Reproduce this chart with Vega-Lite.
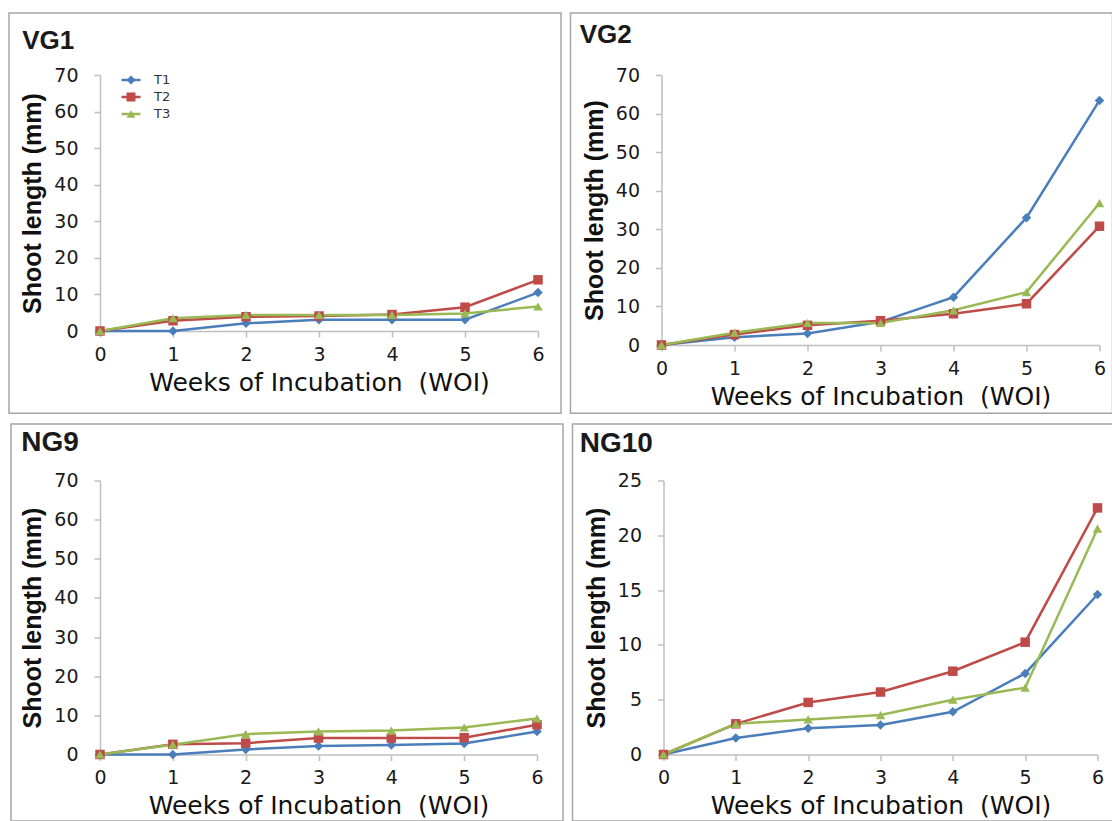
{
  "$schema": "https://vega.github.io/schema/vega-lite/v6.json",
  "background": "white",
  "padding": {"left": 8, "top": 12, "right": 0, "bottom": 0},
  "autosize": {"type": "pad"},
  "datasets": {
    "d": [
      {"panel":"VG1","series":"T1","week":0,"value":0},{"panel":"VG1","series":"T1","week":1,"value":0},{"panel":"VG1","series":"T1","week":2,"value":2.1},{"panel":"VG1","series":"T1","week":3,"value":3.1},{"panel":"VG1","series":"T1","week":4,"value":3.1},{"panel":"VG1","series":"T1","week":5,"value":3.1},{"panel":"VG1","series":"T1","week":6,"value":10.5},
      {"panel":"VG1","series":"T2","week":0,"value":0},{"panel":"VG1","series":"T2","week":1,"value":2.8},{"panel":"VG1","series":"T2","week":2,"value":3.9},{"panel":"VG1","series":"T2","week":3,"value":4.1},{"panel":"VG1","series":"T2","week":4,"value":4.5},{"panel":"VG1","series":"T2","week":5,"value":6.5},{"panel":"VG1","series":"T2","week":6,"value":14.0},
      {"panel":"VG1","series":"T3","week":0,"value":0},{"panel":"VG1","series":"T3","week":1,"value":3.5},{"panel":"VG1","series":"T3","week":2,"value":4.4},{"panel":"VG1","series":"T3","week":3,"value":4.4},{"panel":"VG1","series":"T3","week":4,"value":4.4},{"panel":"VG1","series":"T3","week":5,"value":4.8},{"panel":"VG1","series":"T3","week":6,"value":6.7},
      {"panel":"VG2","series":"T1","week":0,"value":0},{"panel":"VG2","series":"T1","week":1,"value":2.0},{"panel":"VG2","series":"T1","week":2,"value":3.0},{"panel":"VG2","series":"T1","week":3,"value":6.0},{"panel":"VG2","series":"T1","week":4,"value":12.4},{"panel":"VG2","series":"T1","week":5,"value":33.0},{"panel":"VG2","series":"T1","week":6,"value":63.4},
      {"panel":"VG2","series":"T2","week":0,"value":0},{"panel":"VG2","series":"T2","week":1,"value":2.7},{"panel":"VG2","series":"T2","week":2,"value":5.1},{"panel":"VG2","series":"T2","week":3,"value":6.3},{"panel":"VG2","series":"T2","week":4,"value":8.1},{"panel":"VG2","series":"T2","week":5,"value":10.7},{"panel":"VG2","series":"T2","week":6,"value":30.8},
      {"panel":"VG2","series":"T3","week":0,"value":0},{"panel":"VG2","series":"T3","week":1,"value":3.2},{"panel":"VG2","series":"T3","week":2,"value":5.7},{"panel":"VG2","series":"T3","week":3,"value":5.7},{"panel":"VG2","series":"T3","week":4,"value":9.0},{"panel":"VG2","series":"T3","week":5,"value":13.7},{"panel":"VG2","series":"T3","week":6,"value":36.8},
      {"panel":"NG9","series":"T1","week":0,"value":0},{"panel":"NG9","series":"T1","week":1,"value":0},{"panel":"NG9","series":"T1","week":2,"value":1.3},{"panel":"NG9","series":"T1","week":3,"value":2.2},{"panel":"NG9","series":"T1","week":4,"value":2.4},{"panel":"NG9","series":"T1","week":5,"value":2.8},{"panel":"NG9","series":"T1","week":6,"value":5.9},
      {"panel":"NG9","series":"T2","week":0,"value":0},{"panel":"NG9","series":"T2","week":1,"value":2.6},{"panel":"NG9","series":"T2","week":2,"value":2.9},{"panel":"NG9","series":"T2","week":3,"value":4.2},{"panel":"NG9","series":"T2","week":4,"value":4.2},{"panel":"NG9","series":"T2","week":5,"value":4.3},{"panel":"NG9","series":"T2","week":6,"value":7.6},
      {"panel":"NG9","series":"T3","week":0,"value":0},{"panel":"NG9","series":"T3","week":1,"value":2.5},{"panel":"NG9","series":"T3","week":2,"value":5.2},{"panel":"NG9","series":"T3","week":3,"value":5.9},{"panel":"NG9","series":"T3","week":4,"value":6.1},{"panel":"NG9","series":"T3","week":5,"value":6.9},{"panel":"NG9","series":"T3","week":6,"value":9.2},
      {"panel":"NG10","series":"T1","week":0,"value":0},{"panel":"NG10","series":"T1","week":1,"value":1.5},{"panel":"NG10","series":"T1","week":2,"value":2.4},{"panel":"NG10","series":"T1","week":3,"value":2.7},{"panel":"NG10","series":"T1","week":4,"value":3.9},{"panel":"NG10","series":"T1","week":5,"value":7.4},{"panel":"NG10","series":"T1","week":6,"value":14.6},
      {"panel":"NG10","series":"T2","week":0,"value":0},{"panel":"NG10","series":"T2","week":1,"value":2.8},{"panel":"NG10","series":"T2","week":2,"value":4.75},{"panel":"NG10","series":"T2","week":3,"value":5.7},{"panel":"NG10","series":"T2","week":4,"value":7.6},{"panel":"NG10","series":"T2","week":5,"value":10.25},{"panel":"NG10","series":"T2","week":6,"value":22.5},
      {"panel":"NG10","series":"T3","week":0,"value":0},{"panel":"NG10","series":"T3","week":1,"value":2.8},{"panel":"NG10","series":"T3","week":2,"value":3.2},{"panel":"NG10","series":"T3","week":3,"value":3.6},{"panel":"NG10","series":"T3","week":4,"value":5.0},{"panel":"NG10","series":"T3","week":5,"value":6.1},{"panel":"NG10","series":"T3","week":6,"value":20.6}
    ]
  },
  "config": {
    "view": {"stroke": null},
    "axis": {"grid": false, "domainColor": "#bfbfbf", "domainWidth": 1.5, "tickColor": "#bfbfbf", "tickWidth": 1.5, "tickSize": 6, "labelFont": "DejaVu Sans", "labelFontSize": 19, "labelColor": "#1a1a1a", "titleColor": "#111111"},
    "axisX": {"labelPadding": 8, "titleFont": "DejaVu Sans", "titleFontSize": 25, "titleFontWeight": "normal", "titlePadding": 6, "labelFlush": false},
    "axisY": {"labelPadding": 16, "titleFont": "Liberation Sans", "titleFontSize": 25, "titleFontWeight": "bold", "titlePadding": 8},
    "legend": {"orient": "none", "padding": 0, "rowPadding": 0, "clipHeight": 17, "labelFont": "DejaVu Sans", "labelFontSize": 13, "labelColor": "#333333", "labelOffset": 12},
    "title": {"anchor": "start", "frame": "bounds", "offset": 0, "baseline": "top", "font": "Liberation Sans", "fontWeight": "bold", "color": "#1a1a1a"}
  },
  "spacing": 8.5,
  "vconcat": [
    {
      "spacing": 7.5,
      "hconcat": [
        {
          "title": {"text": "VG1", "fontSize": 26, "dx": 14, "dy": 46},
          "width": 438, "height": 256,
          "data": {"name": "d"},
          "transform": [{"filter": "datum.panel === 'VG1'"}],
          "layer": [
            {
              "transform": [{"filter": "datum.week === 0 && datum.series === 'T1'"}],
              "mark": {"type": "rect", "fill": null, "stroke": "#a6a6a6", "strokeWidth": 1.5},
              "encoding": {
                "x": {"datum": -1.2466, "type": "quantitative", "scale": {"domain": [0, 6], "nice": false, "zero": false}, "axis": {"values": [0,1,2,3,4,5,6], "format": "d"}, "title": "Weeks of Incubation \u00a0(WOI)"},
                "x2": {"datum": 6.3151},
                "y": {"datum": -22.49, "type": "quantitative", "scale": {"domain": [0, 70], "nice": false, "zero": false}, "axis": {"values": [0,10,20,30,40,50,60,70], "format": "d"}, "title": "Shoot length (mm)"},
                "y2": {"datum": 86.95}
              }
            },
            {
              "mark": {"type": "line", "strokeWidth": 2.5},
              "encoding": {
                "x": {"field": "week", "type": "quantitative", "axis": {"values": [0,1,2,3,4,5,6], "format": "d"}, "title": "Weeks of Incubation \u00a0(WOI)"},
                "y": {"field": "value", "type": "quantitative", "axis": {"values": [0,10,20,30,40,50,60,70], "format": "d"}, "title": "Shoot length (mm)"},
                "stroke": {"field": "series", "type": "nominal", "scale": {"domain": ["T1","T2","T3"], "range": ["#4A7EBB","#BE4B48","#98B954"]}, "legend": {"title": null, "legendX": 20, "legendY": -3.5, "symbolType": "stroke", "symbolSize": 361, "symbolStrokeWidth": 2.5}}
              }
            },
            {
              "mark": {"type": "point", "filled": true, "opacity": 1, "size": 90},
              "encoding": {
                "x": {"field": "week", "type": "quantitative", "axis": {"values": [0,1,2,3,4,5,6], "format": "d"}, "title": "Weeks of Incubation \u00a0(WOI)"},
                "y": {"field": "value", "type": "quantitative", "axis": {"values": [0,10,20,30,40,50,60,70], "format": "d"}, "title": "Shoot length (mm)"},
                "fill": {"field": "series", "type": "nominal", "scale": {"range": ["#4A7EBB","#BE4B48","#98B954"]}, "legend": {"title": null, "legendX": 24.5, "legendY": -3.5, "symbolSize": 80, "labelExpr": "''"}},
                "shape": {"field": "series", "type": "nominal", "scale": {"range": ["diamond","square","triangle-up"]}, "legend": {"title": null, "legendX": 24.5, "legendY": -3.5, "symbolSize": 80, "labelExpr": "''"}}
              }
            }
          ]
        },
        {
          "title": {"text": "VG2", "fontSize": 26, "dx": 10, "dy": 40},
          "width": 438, "height": 270,
          "data": {"name": "d"},
          "transform": [{"filter": "datum.panel === 'VG2'"}],
          "layer": [
            {
              "transform": [{"filter": "datum.week === 0 && datum.series === 'T1'"}],
              "mark": {"type": "rect", "fill": null, "stroke": "#a6a6a6", "strokeWidth": 1.5},
              "encoding": {
                "x": {"datum": -1.2466, "type": "quantitative", "scale": {"domain": [0, 6], "nice": false, "zero": false}, "axis": {"values": [0,1,2,3,4,5,6], "format": "d"}, "title": "Weeks of Incubation \u00a0(WOI)"},
                "x2": {"datum": 6.178},
                "y": {"datum": -17.69, "type": "quantitative", "scale": {"domain": [0, 70], "nice": false, "zero": false}, "axis": {"values": [0,10,20,30,40,50,60,70], "format": "d"}, "title": "Shoot length (mm)"},
                "y2": {"datum": 86.07}
              }
            },
            {
              "mark": {"type": "line", "strokeWidth": 2.5},
              "encoding": {
                "x": {"field": "week", "type": "quantitative", "axis": {"values": [0,1,2,3,4,5,6], "format": "d"}, "title": "Weeks of Incubation \u00a0(WOI)"},
                "y": {"field": "value", "type": "quantitative", "axis": {"values": [0,10,20,30,40,50,60,70], "format": "d"}, "title": "Shoot length (mm)"},
                "stroke": {"field": "series", "type": "nominal", "scale": {"domain": ["T1","T2","T3"], "range": ["#4A7EBB","#BE4B48","#98B954"]}, "legend": {"title": null, "legendX": 20, "legendY": -3.5, "symbolType": "stroke", "symbolSize": 361, "symbolStrokeWidth": 2.5}}
              }
            },
            {
              "mark": {"type": "point", "filled": true, "opacity": 1, "size": 90},
              "encoding": {
                "x": {"field": "week", "type": "quantitative", "axis": {"values": [0,1,2,3,4,5,6], "format": "d"}, "title": "Weeks of Incubation \u00a0(WOI)"},
                "y": {"field": "value", "type": "quantitative", "axis": {"values": [0,10,20,30,40,50,60,70], "format": "d"}, "title": "Shoot length (mm)"},
                "fill": {"field": "series", "type": "nominal", "scale": {"range": ["#4A7EBB","#BE4B48","#98B954"]}, "legend": {"title": null, "legendX": 24.5, "legendY": -3.5, "symbolSize": 80, "labelExpr": "''"}},
                "shape": {"field": "series", "type": "nominal", "scale": {"range": ["diamond","square","triangle-up"]}, "legend": {"title": null, "legendX": 24.5, "legendY": -3.5, "symbolSize": 80, "labelExpr": "''"}}
              }
            }
          ]
        }
      ]
    },
    {
      "spacing": 7.5,
      "hconcat": [
        {
          "title": {"text": "NG9", "fontSize": 28, "dx": 11, "dy": 38},
          "width": 437, "height": 274,
          "data": {"name": "d"},
          "transform": [{"filter": "datum.panel === 'NG9'"}],
          "layer": [
            {
              "transform": [{"filter": "datum.week === 0 && datum.series === 'T1'"}],
              "mark": {"type": "rect", "fill": null, "stroke": "#a6a6a6", "strokeWidth": 1.5},
              "encoding": {
                "x": {"datum": -1.222, "type": "quantitative", "scale": {"domain": [0, 6], "nice": false, "zero": false}, "axis": {"values": [0,1,2,3,4,5,6], "format": "d"}, "title": "Weeks of Incubation \u00a0(WOI)"},
                "x2": {"datum": 6.357},
                "y": {"datum": -16.99, "type": "quantitative", "scale": {"domain": [0, 70], "nice": false, "zero": false}, "axis": {"values": [0,10,20,30,40,50,60,70], "format": "d"}, "title": "Shoot length (mm)"},
                "y2": {"datum": 84.43}
              }
            },
            {
              "mark": {"type": "line", "strokeWidth": 2.5},
              "encoding": {
                "x": {"field": "week", "type": "quantitative", "axis": {"values": [0,1,2,3,4,5,6], "format": "d"}, "title": "Weeks of Incubation \u00a0(WOI)"},
                "y": {"field": "value", "type": "quantitative", "axis": {"values": [0,10,20,30,40,50,60,70], "format": "d"}, "title": "Shoot length (mm)"},
                "stroke": {"field": "series", "type": "nominal", "scale": {"domain": ["T1","T2","T3"], "range": ["#4A7EBB","#BE4B48","#98B954"]}, "legend": {"title": null, "legendX": 20, "legendY": -3.5, "symbolType": "stroke", "symbolSize": 361, "symbolStrokeWidth": 2.5}}
              }
            },
            {
              "mark": {"type": "point", "filled": true, "opacity": 1, "size": 90},
              "encoding": {
                "x": {"field": "week", "type": "quantitative", "axis": {"values": [0,1,2,3,4,5,6], "format": "d"}, "title": "Weeks of Incubation \u00a0(WOI)"},
                "y": {"field": "value", "type": "quantitative", "axis": {"values": [0,10,20,30,40,50,60,70], "format": "d"}, "title": "Shoot length (mm)"},
                "fill": {"field": "series", "type": "nominal", "scale": {"range": ["#4A7EBB","#BE4B48","#98B954"]}, "legend": {"title": null, "legendX": 24.5, "legendY": -3.5, "symbolSize": 80, "labelExpr": "''"}},
                "shape": {"field": "series", "type": "nominal", "scale": {"range": ["diamond","square","triangle-up"]}, "legend": {"title": null, "legendX": 24.5, "legendY": -3.5, "symbolSize": 80, "labelExpr": "''"}}
              }
            }
          ]
        },
        {
          "title": {"text": "NG10", "fontSize": 28, "dx": 8, "dy": 39},
          "width": 434, "height": 274,
          "data": {"name": "d"},
          "transform": [{"filter": "datum.panel === 'NG10'"}],
          "layer": [
            {
              "transform": [{"filter": "datum.week === 0 && datum.series === 'T1'"}],
              "mark": {"type": "rect", "fill": null, "stroke": "#a6a6a6", "strokeWidth": 1.5},
              "encoding": {
                "x": {"datum": -1.258, "type": "quantitative", "scale": {"domain": [0, 6], "nice": false, "zero": false}, "axis": {"values": [0,1,2,3,4,5,6], "format": "d"}, "title": "Weeks of Incubation \u00a0(WOI)"},
                "x2": {"datum": 6.235},
                "y": {"datum": -6.07, "type": "quantitative", "scale": {"domain": [0, 25], "nice": false, "zero": false}, "axis": {"values": [0,5,10,15,20,25], "format": "d"}, "title": "Shoot length (mm)"},
                "y2": {"datum": 30.155}
              }
            },
            {
              "mark": {"type": "line", "strokeWidth": 2.5},
              "encoding": {
                "x": {"field": "week", "type": "quantitative", "axis": {"values": [0,1,2,3,4,5,6], "format": "d"}, "title": "Weeks of Incubation \u00a0(WOI)"},
                "y": {"field": "value", "type": "quantitative", "axis": {"values": [0,5,10,15,20,25], "format": "d"}, "title": "Shoot length (mm)"},
                "stroke": {"field": "series", "type": "nominal", "scale": {"domain": ["T1","T2","T3"], "range": ["#4A7EBB","#BE4B48","#98B954"]}, "legend": {"title": null, "legendX": 20, "legendY": -3.5, "symbolType": "stroke", "symbolSize": 361, "symbolStrokeWidth": 2.5}}
              }
            },
            {
              "mark": {"type": "point", "filled": true, "opacity": 1, "size": 90},
              "encoding": {
                "x": {"field": "week", "type": "quantitative", "axis": {"values": [0,1,2,3,4,5,6], "format": "d"}, "title": "Weeks of Incubation \u00a0(WOI)"},
                "y": {"field": "value", "type": "quantitative", "axis": {"values": [0,5,10,15,20,25], "format": "d"}, "title": "Shoot length (mm)"},
                "fill": {"field": "series", "type": "nominal", "scale": {"range": ["#4A7EBB","#BE4B48","#98B954"]}, "legend": {"title": null, "legendX": 24.5, "legendY": -3.5, "symbolSize": 80, "labelExpr": "''"}},
                "shape": {"field": "series", "type": "nominal", "scale": {"range": ["diamond","square","triangle-up"]}, "legend": {"title": null, "legendX": 24.5, "legendY": -3.5, "symbolSize": 80, "labelExpr": "''"}}
              }
            }
          ]
        }
      ]
    }
  ]
}
